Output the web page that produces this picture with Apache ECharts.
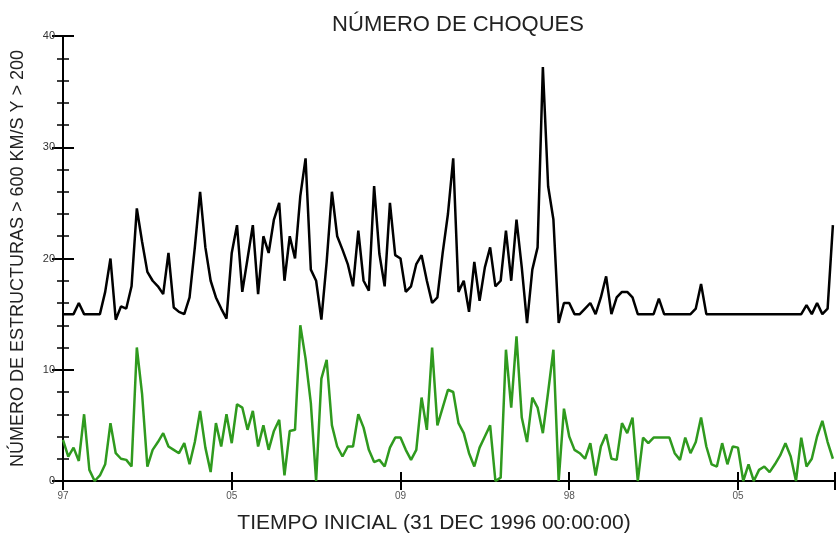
<!DOCTYPE html>
<html>
<head>
<meta charset="utf-8">
<script src="https://cdn.jsdelivr.net/npm/echarts@6/dist/echarts.min.js"></script>
<style>
  html, body { margin: 0; padding: 0; background: #fff; }
  #chart { width: 838px; height: 539px; }
</style>
</head>
<body>
<div id="chart"></div>
<script>
// months since 31 Dec 1996, one sample every 1/8 month
const step = 0.125;
const xMax = 18.3;
const xTickLabels = ['97', '05', '09', '98', '05'];
const yTicks = [0, 10, 20, 30, 40];

// structures > 600 km/s and > 200 (black)
const estructuras = [
  15, 15, 15, 16, 15, 15, 15, 15, 17, 20,
  14.5, 15.7, 15.5, 17.5, 24.5, 21.5, 18.8, 18, 17.5, 16.8,
  20.5, 15.6, 15.2, 15, 16.5, 21, 26, 21, 18, 16.5,
  15.5, 14.6, 20.5, 23, 17, 20, 23, 16.8, 22, 20.5,
  23.5, 25, 18, 22, 20, 25.6, 29, 19, 18, 14.5,
  19.7, 26, 22, 20.8, 19.5, 17.5, 22.5, 18, 17.1, 26.5,
  20.4, 17.5, 25, 20.3, 20, 17, 17.5, 19.5, 20.3, 18,
  16, 16.5, 20.5, 24, 29, 17, 18, 15.2, 19.7, 16.2,
  19.2, 21, 17.5, 18, 22.5, 18, 23.5, 19.2, 14.2, 19,
  21, 37.2, 26.5, 23.5, 14.2, 16, 16, 15, 15, 15.5,
  16, 15, 16.5, 18.4, 15, 16.5, 17, 17, 16.5, 15,
  15, 15, 15, 16.4, 15, 15, 15, 15, 15, 15,
  15.5, 17.7, 15, 15, 15, 15, 15, 15, 15, 15,
  15, 15, 15, 15, 15, 15, 15, 15, 15, 15,
  15, 15.8, 15, 16, 15, 15.5, 23
];

// shocks (green)
const choques = [
  3.7, 2.2, 3, 1.8, 6, 1, 0, 0.5, 1.5, 5.2,
  2.5, 2, 1.9, 1.3, 12, 7.8, 1.3, 2.8, 3.5, 4.3,
  3.1, 2.8, 2.5, 3.4, 1.5, 3.5, 6.3, 3, 0.8, 5.2,
  3.1, 6, 3.4, 6.9, 6.6, 4.6, 6.3, 3.1, 5, 2.8,
  4.5, 5.5, 0.5, 4.5, 4.6, 14, 11, 7, 0, 9.2,
  10.9, 5, 3.1, 2.2, 3.1, 3.1, 6, 4.8, 2.8, 1.7,
  1.9, 1.3, 3, 3.9, 3.9, 2.8, 1.9, 2.8, 7.5, 4.6,
  12, 5, 6.6, 8.2, 8, 5.2, 4.3, 2.5, 1.3, 3,
  4, 5, 0, 0.3, 11.8, 6.6, 13, 5.7, 3.5, 7.5,
  6.6, 4.3, 8, 11.8, 0, 6.5, 4, 2.8, 2.5, 2,
  3.4, 0.5, 3.1, 4.2, 2, 1.9, 5.2, 4.3, 5.7, 0,
  3.9, 3.4, 3.9, 3.9, 3.9, 3.9, 2.5, 1.9, 3.9, 2.5,
  3.5, 5.7, 3.1, 1.5, 1.3, 3.4, 1.5, 3.1, 3, 0,
  1.5, 0, 1, 1.3, 0.8, 1.5, 2.3, 3.4, 2.2, 0,
  3.9, 1.3, 2, 4, 5.4, 3.5, 2
];

const toPairs = arr => arr.map((v, i) => [i * step, v]);

const chart = echarts.init(document.getElementById('chart'), null, { renderer: 'canvas' });
const font = '"Liberation Sans", Arial, sans-serif';
const axisLine = { lineStyle: { color: '#000', width: 2 } };

const xBase = {
  type: 'value', min: 0, max: xMax, interval: 4,
  axisLine, splitLine: { show: false },
  axisTick: { inside: true, length: 9, lineStyle: { color: '#000', width: 2 } }
};
const yBase = {
  type: 'value', min: 0, max: 40, interval: 10,
  axisLine, splitLine: { show: false },
  axisTick: { inside: true, length: 11, lineStyle: { color: '#000', width: 2 } },
  minorTick: { show: true, splitNumber: 5, length: 6, lineStyle: { color: '#000', width: 1.5 } }
};

chart.setOption({
  backgroundColor: '#fff',
  animation: false,
  title: {
    text: 'NÚMERO DE CHOQUES', left: 453, top: 9, textAlign: 'center',
    textStyle: { fontFamily: font, fontSize: 22, fontWeight: 'normal', color: '#222' }
  },
  grid: { left: 63, right: 2, top: 36, bottom: 47 },
  xAxis: [
    { ...xBase, position: 'bottom',
      name: 'TIEMPO INICIAL (31 DEC 1996 00:00:00)', nameLocation: 'middle', nameGap: 32,
      nameTextStyle: { fontFamily: font, fontSize: 21, color: '#222', padding: [0, 30, 0, 0] },
      axisLabel: { color: '#555', fontSize: 10, margin: 10, fontFamily: font,
        formatter: v => xTickLabels[Math.round(v / 4)] ?? '' } },
    { ...xBase, position: 'top', axisLabel: { show: false } }
  ],
  yAxis: [
    { ...yBase, position: 'left',
      name: 'NÚMERO DE ESTRUCTURAS > 600 KM/S Y > 200', nameLocation: 'middle', nameGap: 36,
      nameTextStyle: { fontFamily: font, fontSize: 18, color: '#222' },
      axisLabel: { color: '#333', fontSize: 11, margin: 8, fontFamily: font,
        formatter: v => yTicks.includes(v) ? String(v) : '' } },
    { ...yBase, position: 'right', axisLabel: { show: false } }
  ],
  series: [
    { type: 'line', data: toPairs(estructuras), symbol: 'none',
      lineStyle: { color: '#000', width: 2.5 } },
    { type: 'line', data: toPairs(choques), symbol: 'none',
      lineStyle: { color: '#2f9a1e', width: 2.5 } }
  ]
});
</script>
</body>
</html>
